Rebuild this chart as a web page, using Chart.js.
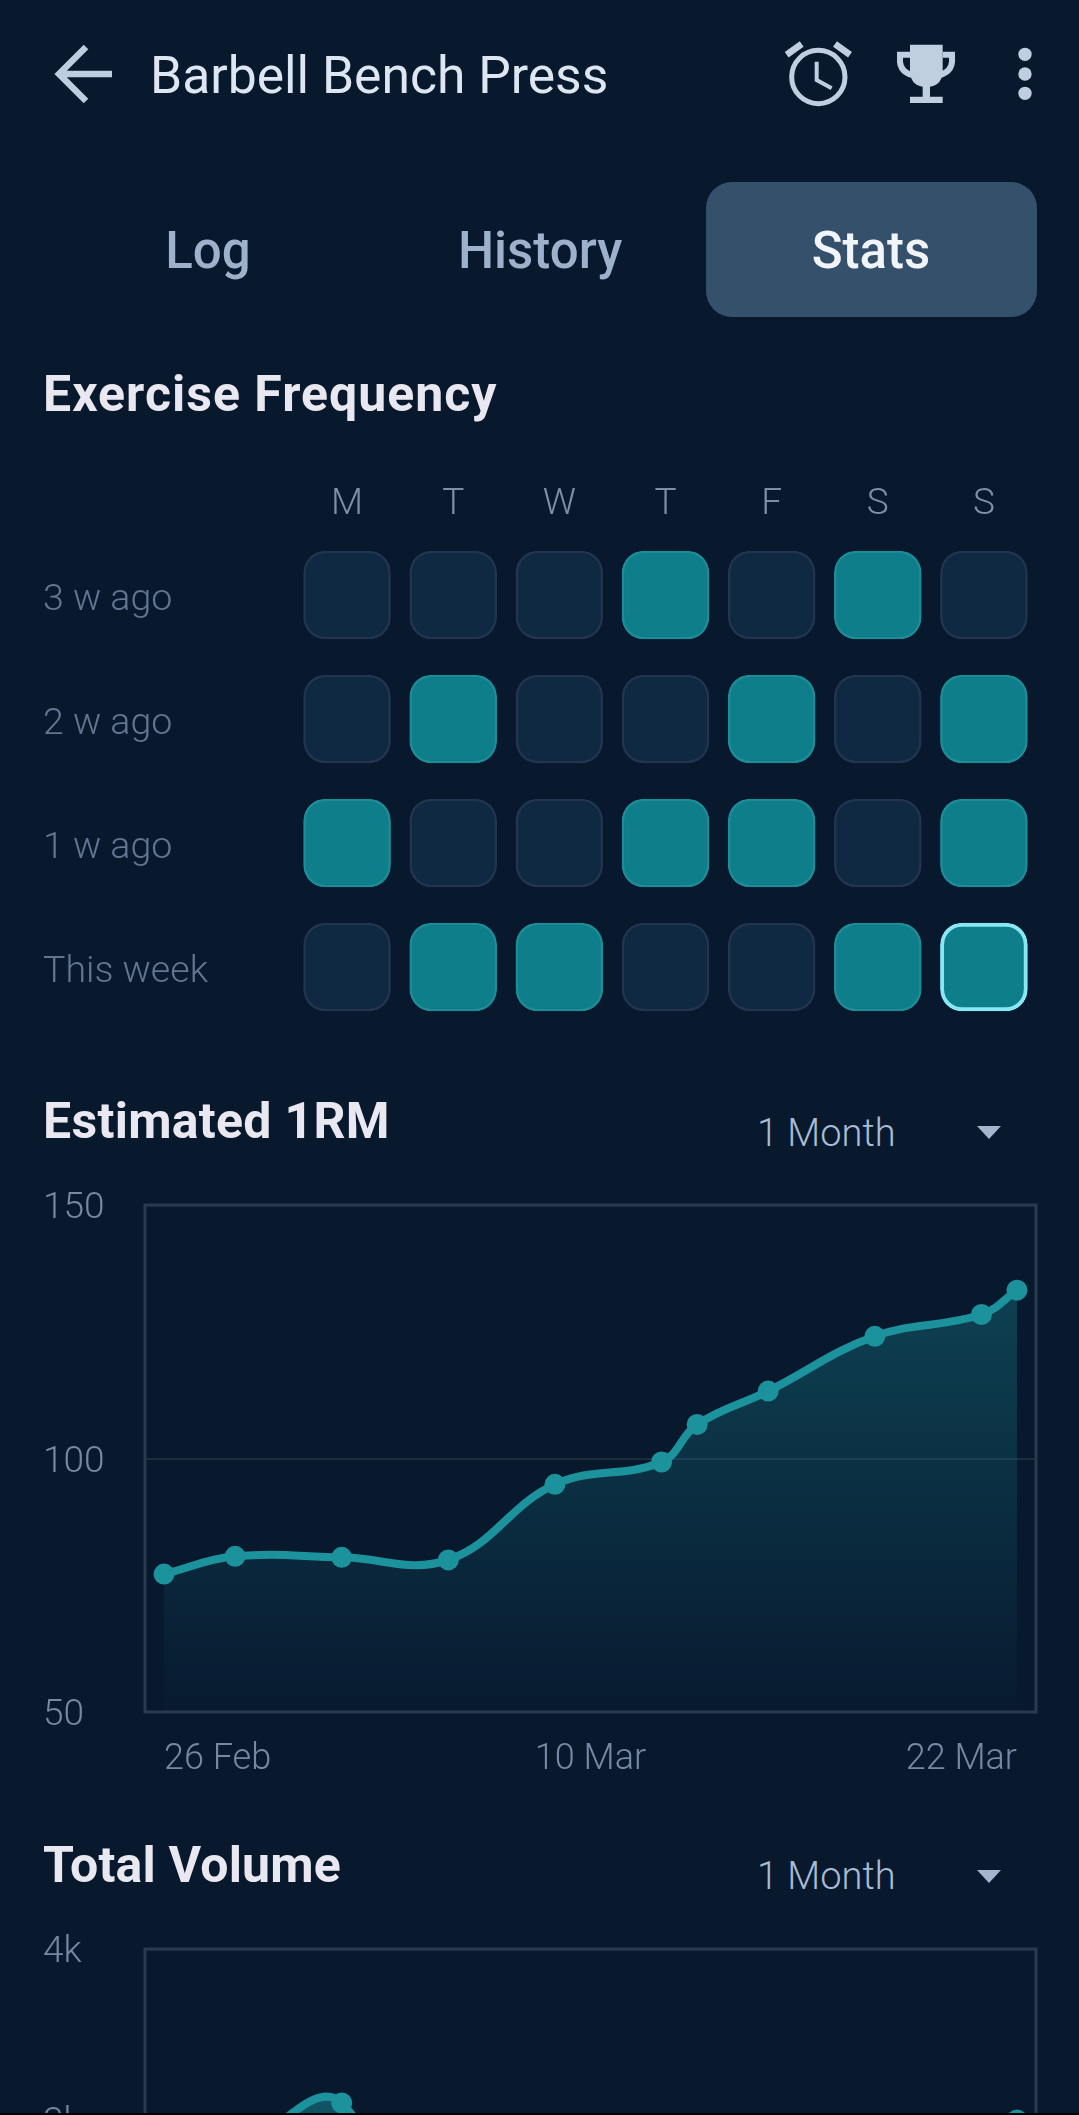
<!DOCTYPE html>
<html><head><meta charset="utf-8">
<script src="https://cdn.jsdelivr.net/npm/chart.js@4"></script>
<style>
html,body{margin:0;padding:0;background:#08192e;width:1079px;height:2115px;overflow:hidden;font-family:Roboto,sans-serif}
#page{position:relative;width:1079px;height:2115px;overflow:hidden;background:#08192e}
.t{position:absolute;line-height:1;white-space:nowrap}
.title{left:150px;top:50px;font-size:51.6px;font-weight:400;color:#dde6f2}
.tab{top:225px;font-size:51px;font-weight:500;color:#9db1cc;transform:translateX(-50%)}
.h{left:43px;font-size:50px;font-weight:700;color:#e9e7f0}
.range{left:757px;font-size:38px;font-weight:300;color:#a9bcd3}
.pill{position:absolute;left:706px;top:182px;width:331px;height:135px;border-radius:26px;background:#34506b}
.tri{position:absolute;left:977px;width:0;height:0;border-left:12px solid transparent;border-right:12px solid transparent;border-top:13px solid #a3b6ce}
canvas{position:absolute;left:0}
svg{position:absolute}
#strip{position:absolute;left:0;top:2113px;width:1079px;height:2px;background:#000}
</style></head><body>
<div id="page">
<svg style="left:40px;top:30px" width="90" height="90" viewBox="40 30 90 90"><path d="M112 74H60M86 47L59 74L86 101" fill="none" stroke="#bccde0" stroke-width="6.5"/></svg>
<div class="t title">Barbell Bench Press</div>
<svg style="left:770px;top:30px" width="280" height="120" viewBox="0 0 840 360" fill="#bfcfe0">
<circle cx="145" cy="141" r="80" fill="none" stroke="#bfcfe0" stroke-width="15"/>
<path d="M140 95V150L185 175" fill="none" stroke="#bfcfe0" stroke-width="12"/>
<path d="M50 74L95 42M195 42L240 74" fill="none" stroke="#bfcfe0" stroke-width="20"/>
<path d="M420 44H518V120Q518 165 480 170V200H518V219H420V200H458V170Q420 165 420 120Z"/>
<path d="M420 74H390V95Q392 125 425 135M518 74H546V95Q544 125 510 135" fill="none" stroke="#bfcfe0" stroke-width="18"/>
<circle cx="765" cy="73" r="20"/><circle cx="765" cy="132" r="20"/><circle cx="765" cy="190" r="20"/>
</svg>
<div class="pill"></div>
<div class="t tab" style="left:208px">Log</div>
<div class="t tab" style="left:540px">History</div>
<div class="t tab" style="left:871px;color:#f1f5f9">Stats</div>
<div class="t h" style="top:369px;letter-spacing:1px">Exercise Frequency</div>
<canvas id="freq" width="1079" height="570" style="top:470px;width:1079px;height:570px"></canvas>
<div class="t h" style="top:1096px;letter-spacing:.3px">Estimated 1RM</div>
<div class="t range" style="top:1114px">1 Month</div>
<div class="tri" style="top:1126px"></div>
<canvas id="rm" width="1079" height="610" style="top:1180px;width:1079px;height:610px"></canvas>
<div class="t h" style="top:1840px;letter-spacing:.2px">Total Volume</div>
<div class="t range" style="top:1857px">1 Month</div>
<div class="tri" style="top:1870px"></div>
<canvas id="vol" width="1079" height="615" style="top:1925px;width:1079px;height:615px"></canvas>
<div id="strip"></div>
</div>
<script>
const dayLabels = ['M','T','W','T','F','S','S'];
const weekLabels = ['3 w ago','2 w ago','1 w ago','This week'];
const week3 = [0,0,0,1,0,1,0];
const week2 = [0,1,0,0,1,0,1];
const week1 = [1,0,0,1,1,0,1];
const week0 = [0,1,1,0,0,1,1];
const todayRow = 3, todayCol = 6;

const chartDays = [0,2,5,8,11,14,15,17,20,23,24];
const dateTickDays = [0,12,24];
const dateTickLabels = ['26 Feb','10 Mar','22 Mar'];
const e1rmValues = [77.2,80.7,80.5,80,94.9,99.3,106.7,113.3,124.1,128.4,133.2];
const e1rmTicks = [50,100,150];
const volumeValues = [2456,2780,3100,1530,1630,1800,1900,2100,2300,2600,3000];
const volumeTicks = [1000,2000,3000,4000];

Chart.defaults.font.family = 'Roboto, sans-serif';
Chart.defaults.font.weight = 300;
Chart.defaults.devicePixelRatio = 1;

const teal = 'rgb(28,146,157)';
const frameColor = 'rgb(42,58,80)';
const noPad = s=>{s.paddingLeft=s.paddingRight=s.paddingTop=s.paddingBottom=0};
const nudgeY = (scale,dy)=>{
  if(scale._nudged)return;scale._nudged=true;
  scale.getLabelItems().forEach(it=>{it.options.translation[1]+=dy});
};

/* Heat map drawn as floating bars */
const weeks = [week3,week2,week1,week0];
const halfCell = 0.355;
new Chart(document.getElementById('freq'),{
  type:'bar',
  data:{labels:dayLabels,datasets:weeks.map((w,r)=>({
    data:w.map(()=>[r-halfCell,r+halfCell]),
    backgroundColor:w.map(v=>v?'rgb(14,126,138)':'rgb(16,41,66)'),
    borderColor:w.map((v,c)=>(r===todayRow&&c===todayCol)?'rgb(135,232,243)':(v?'rgb(30,140,150)':'rgb(34,52,78)')),
    borderWidth:w.map((v,c)=>(r===todayRow&&c===todayCol)?4:2.5),
    borderRadius:22,borderSkipped:false,barThickness:87,grouped:false
  }))},
  plugins:[{id:'rowNudge',beforeDraw(c){nudgeY(c.scales.y,6)}}],
  options:{
    responsive:false,animation:false,
    layout:{padding:{left:43,right:42,top:0,bottom:11}},
    plugins:{legend:{display:false},tooltip:{enabled:false}},
    scales:{
      x:{position:'top',offset:true,grid:{display:false,drawTicks:false},border:{display:false},
        afterFit(s){s.height=63;noPad(s)},
        ticks:{color:'rgb(125,144,168)',font:{size:37,weight:300},padding:6,maxRotation:0,autoSkip:false}},
      y:{min:-0.5,max:3.5,reverse:true,grid:{display:false,drawTicks:false},border:{display:false},
        afterFit(s){s.width=251;noPad(s)},
        afterBuildTicks(s){s.ticks=weekLabels.map((_,i)=>({value:i}))},
        ticks:{crossAlign:'far',color:'rgb(98,118,144)',font:{size:37.5,weight:300},padding:0,callback:v=>weekLabels[v]}}
    }
  }
});

/* Frame around the plot and end-aligned date labels */
const plotFrame = {id:'plotFrame',
  beforeDatasetsDraw(c){
    const a=c.chartArea,x=c.ctx;x.save();x.strokeStyle=frameColor;x.lineWidth=3;
    x.strokeRect(a.left,a.top,a.right-a.left,a.bottom-a.top);x.restore();
  },
  beforeDraw(c){
    const items=c.scales.x.getLabelItems();
    if(items.length){items[0].options.textAlign='left';items[items.length-1].options.textAlign='right';}
    nudgeY(c.scales.y,4);
  }
};

function lineChart(id,values,ticks,min,max,fmt,topAlpha,padTop){
  const pts=chartDays.map((d,i)=>({x:d,y:values[i]}));
  return new Chart(document.getElementById(id),{
    type:'line',
    data:{datasets:[{data:pts,borderColor:teal,borderWidth:8,tension:0.4,cubicInterpolationMode:'default',
      pointRadius:10.5,pointBackgroundColor:teal,pointBorderWidth:0,fill:'start',
      backgroundColor(ctx){
        const c=ctx.chart,a=c.chartArea;if(!a)return 'transparent';
        const top=c.scales.y.getPixelForValue(Math.max(...values));
        const g=c.ctx.createLinearGradient(0,top,0,a.bottom);
        g.addColorStop(0,`rgba(26,143,154,${topAlpha})`);
        g.addColorStop(1,'rgba(26,143,154,0.01)');
        return g;
      }}]},
    plugins:[plotFrame],
    options:{
      responsive:false,animation:false,
      layout:{padding:{left:43,right:43,top:padTop,bottom:0}},
      plugins:{legend:{display:false},tooltip:{enabled:false}},
      scales:{
        x:{type:'linear',min:-0.535,max:24.535,grid:{display:false,drawTicks:false},border:{display:false},
          afterFit(s){s.height=78;noPad(s)},
          afterBuildTicks(s){s.ticks=dateTickDays.map(v=>({value:v}))},
          ticks:{color:'rgb(118,137,162)',font:{size:36,weight:300},padding:26,maxRotation:0,autoSkip:false,
            callback:v=>dateTickLabels[dateTickDays.indexOf(v)]}},
        y:{min,max,grid:{color:'rgb(28,45,62)',lineWidth:2,drawTicks:false},border:{display:false},
          afterFit(s){s.width=102;noPad(s)},
          afterBuildTicks(s){s.ticks=ticks.map(v=>({value:v}))},
          ticks:{crossAlign:'far',color:'rgb(118,137,162)',font:{size:37,weight:300},padding:0,callback:fmt}}
      }
    }
  });
}
lineChart('rm',e1rmValues,e1rmTicks,50,150,v=>String(v),0.34,25);
lineChart('vol',volumeValues,volumeTicks,1000,4000,v=>(v/1000)+'k',0.5,24);
</script>
</body></html>
